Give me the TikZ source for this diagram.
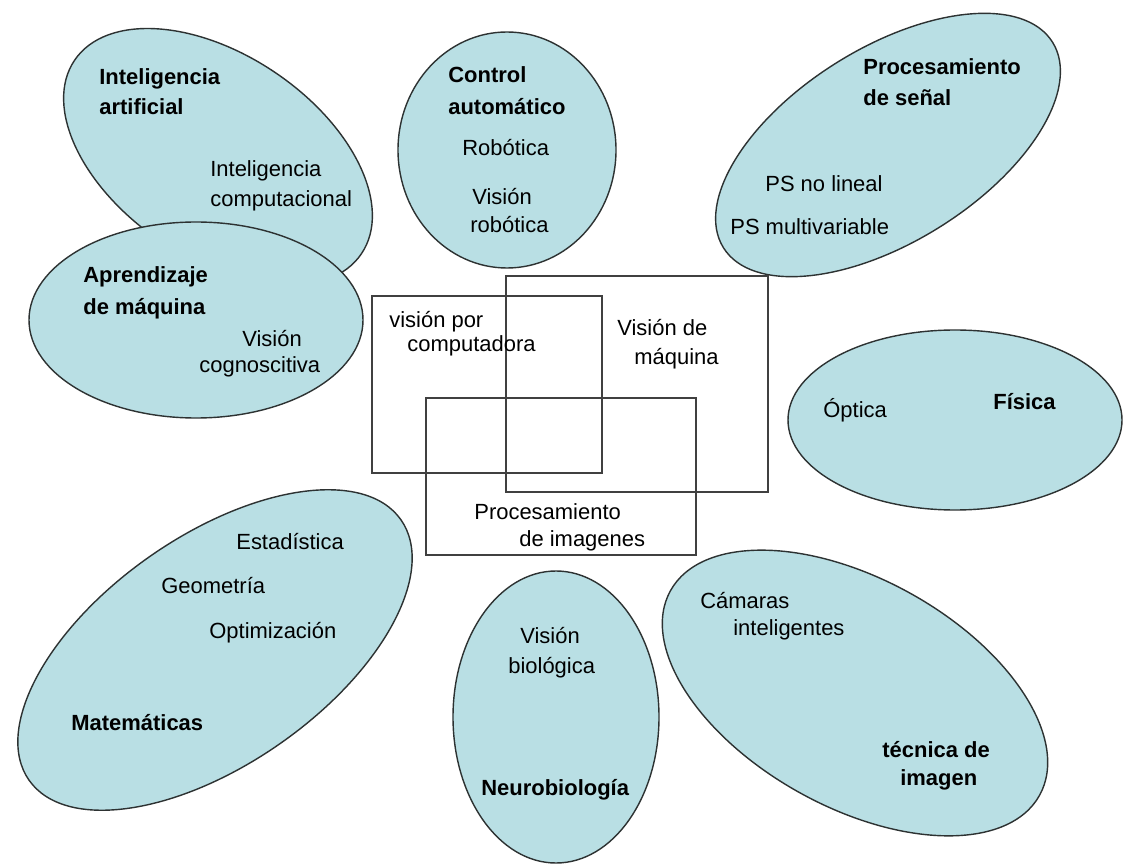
\documentclass[tikz,border=0pt]{standalone}
\usepackage{fontspec}
\setmainfont{Liberation Sans}
\definecolor{blobfill}{RGB}{185,223,228}
\definecolor{blobline}{RGB}{45,50,50}
\begin{document}
\begin{tikzpicture}[x=0.02cm,y=-0.02cm,
  blob/.style={draw=blobline,line width=0.8pt,fill=blobfill},
  zone/.style={draw=black!75,line width=1.1pt},
  txt/.style={anchor=base west,inner sep=0pt,font=\fontsize{12.5}{15}\selectfont},
  head/.style={txt,font=\fontsize{12.5}{15}\selectfont\bfseries}]
\useasboundingbox[fill=white] (0,0) rectangle (1125,864);

% Inteligencia artificial
\draw[blob,rotate around={-34:(218,157)}] (218,157) ellipse [x radius=173,y radius=102];
\node[head] (ia1) at (99,85) {Inteligencia};
\node[head] (ia2) at (99,115) {artificial};
\node[txt] (ic1) at (210,177) {Inteligencia};
\node[txt] (ic2) at (210,207) {computacional};

% Aprendizaje de maquina
\draw[blob] (196,320) ellipse [x radius=167,y radius=98];
\node[head] (am1) at (83,283) {Aprendizaje};
\node[head] (am2) at (83,315) {de máquina};
\node[txt] (vc1) at (242,347) {Visión};
\node[txt] (vc2) at (199,373) {cognoscitiva};

% Control automatico
\draw[blob] (507,150) ellipse [x radius=109,y radius=118];
\node[head] (ca1) at (448,83) {Control};
\node[head] (ca2) at (448,115) {automático};
\node[txt] (rob) at (462,156) {Robótica};
\node[txt] (vr1) at (472,205) {Visión};
\node[txt] (vr2) at (470,233) {robótica};

% Procesamiento de senal
\draw[blob,rotate around={32:(888,145)}] (888,145) ellipse [x radius=194,y radius=97];
\node[head] (ps1) at (863,75) {Procesamiento};
\node[head] (ps2) at (863,106) {de señal};
\node[txt] (psnl) at (765,192) {PS no lineal};
\node[txt] (psmv) at (730,235) {PS multivariable};

% Fisica
\draw[blob] (955,420) ellipse [x radius=167,y radius=90];
\node[txt] (opt) at (823,418) {Óptica};
\node[head] (fis) at (993,410) {Física};

% Matematicas
\draw[blob,rotate around={35:(215,650)}] (215,650) ellipse [x radius=227,y radius=114];
\node[txt] (est) at (236,549) {Estadística};
\node[txt] (geo) at (161,593) {Geometría};
\node[txt] (optm) at (209,638) {Optimización};
\node[head] (mat) at (71,730) {Matemáticas};

% Neurobiologia
\draw[blob] (556,717) ellipse [x radius=103,y radius=146];
\node[txt] (vb1) at (520,643) {Visión};
\node[txt] (vb2) at (508,673) {biológica};
\node[head] (neu) at (481,795) {Neurobiología};

% Tecnica de imagen
\draw[blob,rotate around={-29:(855,693)}] (855,693) ellipse [x radius=211,y radius=114];
\node[txt] (cam1) at (700,608) {Cámaras};
\node[txt] (cam2) at (733,635) {inteligentes};
\node[head] (ti1) at (882,757) {técnica de};
\node[head] (ti2) at (900,785) {imagen};

% overlapping fields
\draw[zone] (372,296) rectangle (602,473);
\draw[zone] (506,276) rectangle (768,492);
\draw[zone] (426,398) rectangle (696,555);
\node[txt] (vpc1) at (389,328) {visión por};
\node[txt] (vpc2) at (407,352) {computadora};
\node[txt] (vm1) at (617,336) {Visión de};
\node[txt] (vm2) at (634,365) {máquina};
\node[txt] (pi1) at (474,519) {Procesamiento};
\node[txt] (pi2) at (519,546) {de imagenes};

\end{tikzpicture}
\end{document}
